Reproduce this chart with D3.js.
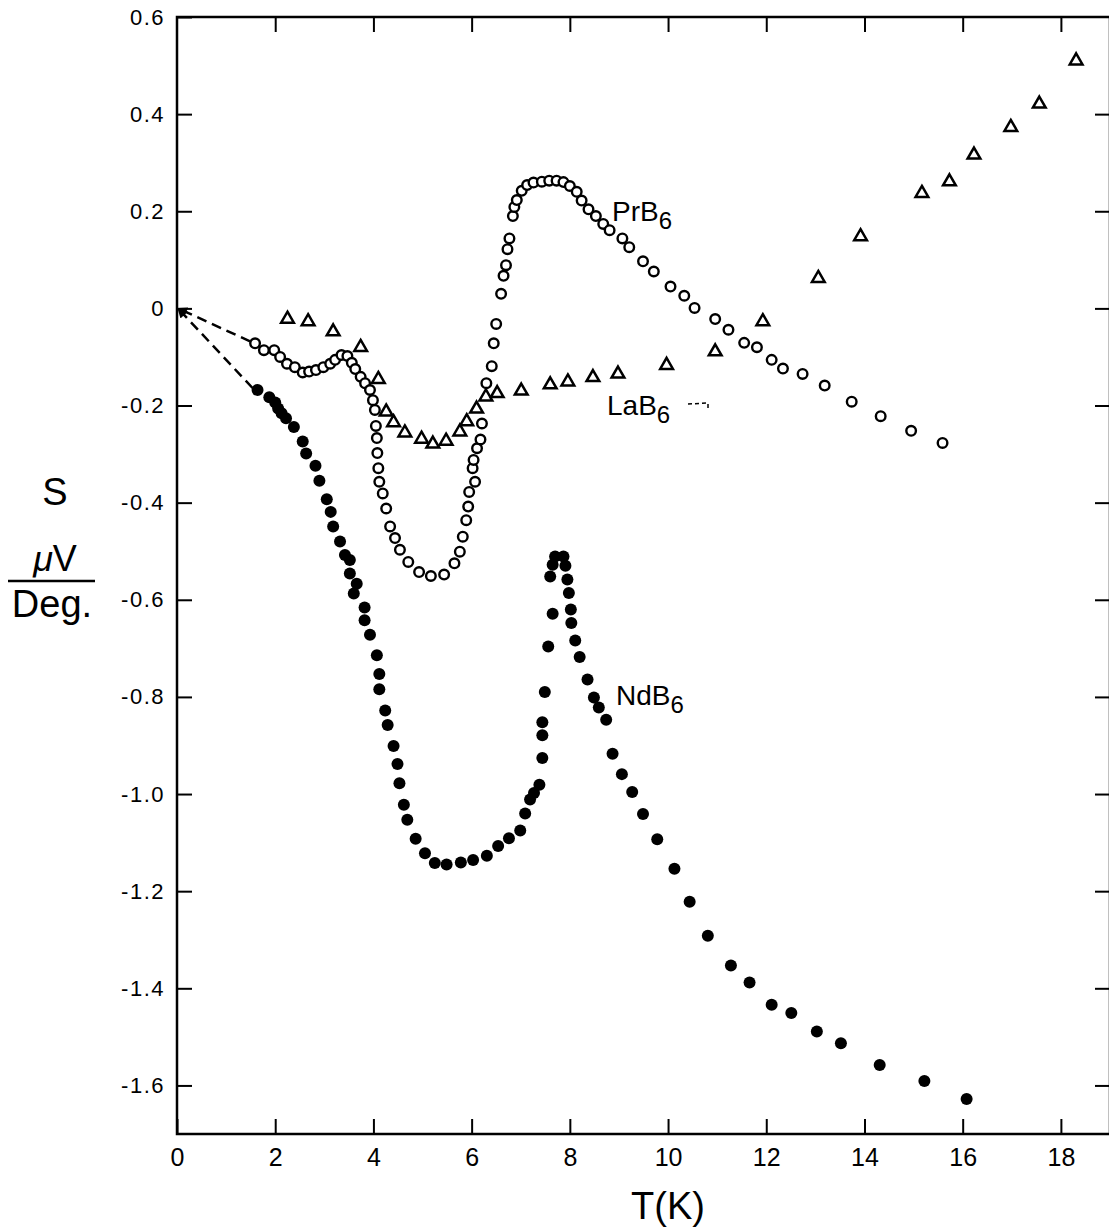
<!DOCTYPE html>
<html>
<head>
<meta charset="utf-8">
<script src="https://cdn.jsdelivr.net/npm/d3@7"></script>
<style>
  body { margin: 0; background: #fff; }
  text { font-family: "Liberation Sans", Arial, sans-serif; fill: #000; }
</style>
</head>
<body>
<script>
const width = 1109;
const height = 1231;

// T (K), S (uV/Deg)
const prb6 = [
  [1.59,-0.072],[1.77,-0.086],[1.98,-0.086],[2.10,-0.100],[2.24,-0.114],[2.40,-0.121],
  [2.56,-0.132],[2.69,-0.130],[2.83,-0.127],[2.98,-0.121],[3.12,-0.114],[3.22,-0.106],
  [3.35,-0.096],[3.47,-0.098],[3.56,-0.112],[3.63,-0.125],[3.74,-0.141],[3.83,-0.154],
  [3.93,-0.168],[3.99,-0.189],[4.03,-0.209],[4.05,-0.242],[4.07,-0.267],[4.08,-0.298],
  [4.10,-0.329],[4.12,-0.357],[4.19,-0.381],[4.26,-0.412],[4.34,-0.449],[4.44,-0.473],
  [4.54,-0.497],[4.71,-0.522],[4.93,-0.543],[5.17,-0.551],[5.44,-0.548],[5.65,-0.525],
  [5.76,-0.501],[5.82,-0.470],[5.89,-0.436],[5.93,-0.408],[5.95,-0.378],[6.07,-0.357],
  [6.02,-0.329],[6.04,-0.312],[6.11,-0.288],[6.18,-0.270],[6.21,-0.237],[6.30,-0.154],
  [6.41,-0.119],[6.45,-0.072],[6.50,-0.032],[6.60,0.030],[6.65,0.067],[6.70,0.089],
  [6.73,0.122],[6.77,0.144],[6.84,0.190],[6.87,0.209],[6.92,0.223],[7.02,0.242],
  [7.13,0.254],[7.26,0.259],[7.43,0.261],[7.58,0.263],[7.73,0.263],[7.87,0.260],
  [8.00,0.252],[8.14,0.240],[8.24,0.222],[8.38,0.204],[8.53,0.190],[8.68,0.174],
  [8.81,0.161],[9.07,0.144],[9.21,0.126],[9.49,0.097],[9.71,0.076],[10.05,0.045],
  [10.33,0.026],[10.54,0.001],[10.96,-0.022],[11.23,-0.044],[11.55,-0.071],[11.81,-0.080],
  [12.11,-0.106],[12.34,-0.124],[12.74,-0.135],[13.19,-0.159],[13.74,-0.192],[14.33,-0.222],
  [14.95,-0.252],[15.59,-0.277]
];

const lab6 = [
  [2.25,-0.022],[2.67,-0.027],[3.18,-0.048],[3.74,-0.080],[4.10,-0.146],[4.26,-0.213],
  [4.41,-0.235],[4.64,-0.256],[4.98,-0.269],[5.21,-0.279],[5.48,-0.273],[5.76,-0.254],
  [5.90,-0.233],[6.10,-0.207],[6.29,-0.182],[6.52,-0.175],[7.01,-0.170],[7.60,-0.157],
  [7.96,-0.151],[8.47,-0.142],[8.98,-0.135],[9.97,-0.117],[10.96,-0.089],[11.93,-0.027],
  [13.06,0.062],[13.92,0.148],[15.17,0.237],[15.73,0.261],[16.23,0.316],[16.98,0.373],
  [17.56,0.421],[18.31,0.510]
];

const ndb6 = [
  [1.64,-0.168],[1.88,-0.183],[2.00,-0.194],[2.06,-0.206],[2.13,-0.216],[2.22,-0.226],
  [2.38,-0.244],[2.56,-0.274],[2.63,-0.299],[2.82,-0.324],[2.90,-0.355],[3.05,-0.393],
  [3.13,-0.419],[3.18,-0.449],[3.32,-0.480],[3.42,-0.508],[3.52,-0.518],[3.52,-0.546],
  [3.66,-0.567],[3.60,-0.587],[3.82,-0.616],[3.82,-0.642],[3.93,-0.672],[4.07,-0.714],
  [4.12,-0.753],[4.12,-0.784],[4.24,-0.828],[4.29,-0.858],[4.41,-0.901],[4.49,-0.938],
  [4.53,-0.978],[4.62,-1.022],[4.69,-1.053],[4.86,-1.092],[5.05,-1.122],[5.25,-1.142],
  [5.49,-1.145],[5.78,-1.141],[6.03,-1.136],[6.31,-1.127],[6.54,-1.107],[6.76,-1.091],
  [6.99,-1.075],[7.09,-1.040],[7.19,-1.011],[7.27,-0.998],[7.38,-0.981],[7.44,-0.926],
  [7.44,-0.879],[7.44,-0.852],[7.49,-0.790],[7.56,-0.696],[7.65,-0.629],[7.60,-0.552],
  [7.65,-0.528],[7.70,-0.511],[7.87,-0.511],[7.91,-0.530],[7.95,-0.558],[7.98,-0.586],
  [8.02,-0.620],[8.03,-0.648],[8.11,-0.684],[8.20,-0.718],[8.36,-0.764],[8.49,-0.801],
  [8.59,-0.822],[8.74,-0.847],[8.87,-0.917],[9.06,-0.959],[9.27,-0.996],[9.49,-1.041],
  [9.78,-1.093],[10.13,-1.154],[10.44,-1.222],[10.81,-1.292],[11.28,-1.353],[11.66,-1.388],
  [12.11,-1.434],[12.51,-1.451],[13.03,-1.489],[13.52,-1.513],[14.31,-1.558],[15.22,-1.591],
  [16.08,-1.628]
];

const xTicks = [0, 2, 4, 6, 8, 10, 12, 14, 16, 18];
const yTicks = [0.6, 0.4, 0.2, 0, -0.2, -0.4, -0.6, -0.8, -1.0, -1.2, -1.4, -1.6];
const yTickLabels = ["0.6", "0.4", "0.2", "0", "-0.2", "-0.4", "-0.6", "-0.8", "-1.0", "-1.2", "-1.4", "-1.6"];

const plotLeft = 177, plotRight = 1110, plotTop = 17, plotBottom = 1134;

const x = d3.scaleLinear().domain([0, 19]).range([plotLeft, plotRight]);
const y = d3.scaleLinear().domain([-1.7, 0.6]).range([plotBottom, plotTop]);

const svg = d3.select("body").append("svg")
  .attr("width", width)
  .attr("height", height);

// axes with inward ticks
const yAxis = svg.append("g")
  .attr("transform", "translate(" + plotLeft + ",0)")
  .call(d3.axisLeft(y).tickValues(yTicks).tickSize(-15).tickSizeOuter(0).tickPadding(12)
    .tickFormat(function (d, i) { return yTickLabels[i]; }));

const xAxis = svg.append("g")
  .attr("transform", "translate(0," + plotBottom + ")")
  .call(d3.axisBottom(x).tickValues(xTicks).tickSize(-15).tickSizeOuter(0).tickPadding(14)
    .tickFormat(d3.format("d")));

svg.append("g")
  .attr("transform", "translate(0," + plotTop + ")")
  .call(d3.axisTop(x).tickValues(xTicks.slice(1)).tickSize(-15).tickSizeOuter(0).tickFormat(""));

svg.append("g")
  .attr("transform", "translate(" + plotRight + ",0)")
  .call(d3.axisRight(y).tickValues(yTicks.slice(1)).tickSize(-15).tickSizeOuter(0).tickFormat(""));

svg.selectAll(".domain").remove();
svg.selectAll(".tick line").attr("stroke", "#000").attr("stroke-width", 2);

yAxis.attr("font-size", 22).attr("font-family", null);
yAxis.selectAll("text")
  .attr("letter-spacing", 1.5);
xAxis.attr("font-size", 25).attr("font-family", null);

// frame
svg.append("rect")
  .attr("x", plotLeft)
  .attr("y", plotTop)
  .attr("width", plotRight - plotLeft)
  .attr("height", plotBottom - plotTop)
  .attr("fill", "none")
  .attr("stroke", "#000")
  .attr("stroke-width", 2.5);

// arrowhead for dashed extrapolation lines
svg.append("defs").append("marker")
  .attr("id", "arrow")
  .attr("viewBox", "0 0 10 10")
  .attr("refX", 9)
  .attr("refY", 5)
  .attr("markerWidth", 5)
  .attr("markerHeight", 4)
  .attr("markerUnits", "strokeWidth")
  .attr("orient", "auto")
  .append("path")
    .attr("d", "M0,0 L10,5 L0,10 Z")
    .attr("fill", "#000");

[prb6[0], ndb6[0]].forEach(function (p) {
  svg.append("line")
    .attr("x1", x(p[0]) - 5)
    .attr("y1", y(p[1]) - 2)
    .attr("x2", x(0) + 1)
    .attr("y2", y(0))
    .attr("stroke", "#000")
    .attr("stroke-width", 2.5)
    .attr("stroke-dasharray", "10,6")
    .attr("marker-end", "url(#arrow)");
});

// LaB6 triangles
svg.selectAll("path.la")
  .data(lab6)
  .enter()
  .append("path")
    .attr("class", "la")
    .attr("d", d3.symbol(d3.symbolTriangle, 70))
    .attr("transform", function (d) { return "translate(" + x(d[0]) + "," + y(d[1]) + ")"; })
    .attr("fill", "#fff")
    .attr("stroke", "#000")
    .attr("stroke-width", 2.5)
    .attr("stroke-linejoin", "miter");

// PrB6 open circles
svg.selectAll("circle.pr")
  .data(prb6)
  .enter()
  .append("circle")
    .attr("class", "pr")
    .attr("cx", function (d) { return x(d[0]); })
    .attr("cy", function (d) { return y(d[1]); })
    .attr("r", 4.8)
    .attr("fill", "#fff")
    .attr("stroke", "#000")
    .attr("stroke-width", 2.4);

// NdB6 filled circles
svg.selectAll("circle.nd")
  .data(ndb6)
  .enter()
  .append("circle")
    .attr("class", "nd")
    .attr("cx", function (d) { return x(d[0]); })
    .attr("cy", function (d) { return y(d[1]); })
    .attr("r", 6)
    .attr("fill", "#000");

// series labels
function compound(px, py, base) {
  const t = svg.append("text")
    .attr("x", px)
    .attr("y", py)
    .attr("font-size", 28);
  t.append("tspan").text(base);
  t.append("tspan").attr("font-size", 24).attr("dy", 8).text("6");
}
compound(612, 221, "PrB");
compound(607, 415, "LaB");
compound(616, 705, "NdB");

svg.append("path")
  .attr("d", "M688,404 L708,403 L708,410")
  .attr("fill", "none")
  .attr("stroke", "#000")
  .attr("stroke-width", 1.5)
  .attr("stroke-dasharray", "4,3");

// axis titles
svg.append("text")
  .attr("x", 668)
  .attr("y", 1219)
  .attr("text-anchor", "middle")
  .attr("font-size", 38)
  .text("T(K)");

svg.append("text")
  .attr("x", 55)
  .attr("y", 505)
  .attr("text-anchor", "middle")
  .attr("font-size", 38)
  .text("S");

const uv = svg.append("text")
  .attr("x", 55)
  .attr("y", 571)
  .attr("text-anchor", "middle")
  .attr("font-size", 36);
uv.append("tspan").attr("font-style", "italic").text("\u03bc");
uv.append("tspan").text("V");

svg.append("line")
  .attr("x1", 8)
  .attr("x2", 95)
  .attr("y1", 581)
  .attr("y2", 581)
  .attr("stroke", "#000")
  .attr("stroke-width", 2.5);

svg.append("text")
  .attr("x", 52)
  .attr("y", 617)
  .attr("text-anchor", "middle")
  .attr("font-size", 38)
  .text("Deg.");
</script>
</body>
</html>
